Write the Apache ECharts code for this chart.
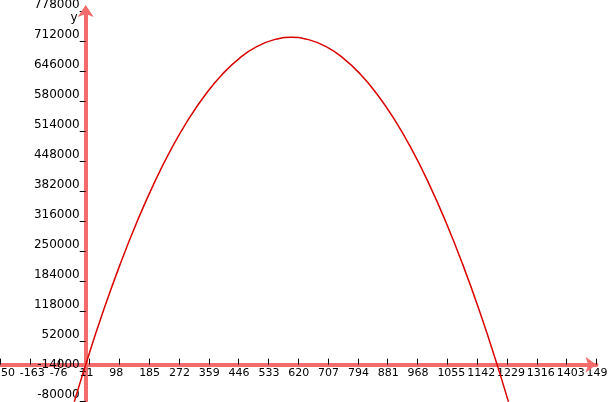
<!DOCTYPE html>
<html>
<head>
<meta charset="utf-8">
<script src="https://cdn.jsdelivr.net/npm/echarts@6/dist/echarts.min.js"></script>
<style>
html,body{margin:0;padding:0;background:#fff;overflow:hidden;width:608px;height:402px;position:relative;}
#chart{position:absolute;left:-60px;top:-60px;width:728px;height:522px;}
</style>
</head>
<body>
<div id="chart"></div>
<script>
// Points (x, y)
var xValues = [-40, 0, 50, 100, 150, 200, 250, 300, 350, 400, 450, 500, 550, 600,
               650, 700, 750, 800, 850, 900, 950, 1000, 1050, 1100, 1150, 1200, 1250];
var yValues = [-99200, 0, 115000, 220000, 315000, 400000, 475000, 540000, 595000, 640000,
               675000, 700000, 715000, 720000, 715000, 700000, 675000, 640000, 595000,
               540000, 475000, 400000, 315000, 220000, 115000, 0, -125000];
// Axis tick settings
var xTickStart = -250, xTickEnd = 1490, xTickStep = 87;
var yTickStart = -80000, yTickEnd = 778000, yTickStep = 66000;

var points = xValues.map(function (x, i) { return [x, yValues[i]]; });

var axisColor = '#f36b6b';
var font = 'DejaVu Sans';
function plain(v) { return String(Math.round(Number(v))); }

var el = document.getElementById('chart');
var chart = echarts.init(el, null, {renderer: 'canvas'});

function buildOption(g, useOnZero) {
  var gw = 728 - g.left - g.right, gh = 522 - g.top - g.bottom;
  // where the zero lines fall inside the grid (axis placement only)
  var yAxisOffset = -(0 - xTickStart) / (xTickEnd - xTickStart) * gw;
  var xAxisOffset = -(0 - yTickStart) / (yTickEnd - yTickStart) * gh;
  return {
    animation: false,
    backgroundColor: '#ffffff',
    grid: {left: g.left, right: g.right, top: g.top, bottom: g.bottom, containLabel: false},
    xAxis: {
      type: 'value', position: 'bottom',
      offset: useOnZero ? 0 : xAxisOffset,
      min: xTickStart, max: xTickEnd, interval: xTickStep,
      axisLine: {show: true, onZero: useOnZero, lineStyle: {color: axisColor, width: 4},
                 symbol: ['none', 'arrow'], symbolSize: [12, 11]},
      axisTick: {show: true, inside: true, length: 6, lineStyle: {color: '#000', width: 1}},
      splitLine: {show: false},
      axisLabel: {show: true, color: '#000', fontFamily: font, fontSize: 11, margin: 3,
                  align: 'left', padding: [0, 0, 0, -10],
                  showMinLabel: true, showMaxLabel: true,
                  hideOverlap: false, formatter: plain}
    },
    yAxis: {
      type: 'value', position: 'left',
      offset: useOnZero ? 0 : yAxisOffset,
      min: yTickStart, max: yTickEnd, interval: yTickStep,
      name: 'y', nameLocation: 'end', nameGap: -7,
      nameTextStyle: {color: '#000', fontFamily: font, fontSize: 12, align: 'right',
                      verticalAlign: 'middle', padding: [0, 8, 0, 0]},
      axisLine: {show: true, onZero: useOnZero, lineStyle: {color: axisColor, width: 4},
                 symbol: ['none', 'arrow'], symbolSize: [12, 12], symbolOffset: [0, 6]},
      axisTick: {show: true, inside: false, length: 6, lineStyle: {color: '#000', width: 1}},
      splitLine: {show: false},
      axisLabel: {show: true, color: '#000', fontFamily: font, fontSize: 12, margin: 6,
                  verticalAlign: 'bottom', showMinLabel: true, showMaxLabel: true,
                  hideOverlap: false, formatter: plain}
    },
    series: [{
      type: 'line',
      data: points,
      smooth: true,
      showSymbol: false,
      clip: true,
      lineStyle: {color: '#d80000', width: 1.5}
    }]
  };
}

function countLabels() {
  try {
    var list = chart.getZr().storage.getDisplayList(true);
    var n = 0;
    for (var i = 0; i < list.length; i++) {
      var d = list[i];
      var t = d.style && d.style.text;
      if (t != null && /^-?\d+$/.test(String(t)) && !d.invisible &&
          (d.style.opacity == null || d.style.opacity > 0)) {
        var m = d.transform;
        var px = m ? m[4] : d.x, py = m ? m[5] : d.y;
        if (isFinite(px) && isFinite(py)) n++;
      }
    }
    return n;
  } catch (e) { return -1; }
}

var g = {left: 60, right: 71.5, top: 71, bottom: 61};
var attempts = [
  function () { chart.setOption(buildOption(g, false), true); },
  function () { chart.setOption(buildOption(g, true), true); },
  function () {
    el.style.left = '0px'; el.style.top = '0px';
    el.style.width = '608px'; el.style.height = '402px';
    chart.resize();
    var o = buildOption({left: 60, right: 71.5, top: 71, bottom: 61}, true);
    o.grid = {left: 0, right: 11.5, top: 11, bottom: 1, containLabel: false};
    chart.setOption(o, true);
  }
];
for (var a = 0; a < attempts.length; a++) {
  attempts[a]();
  var c = countLabels();
  if (c < 0 || c >= 20) break;
}
</script>
</body>
</html>
